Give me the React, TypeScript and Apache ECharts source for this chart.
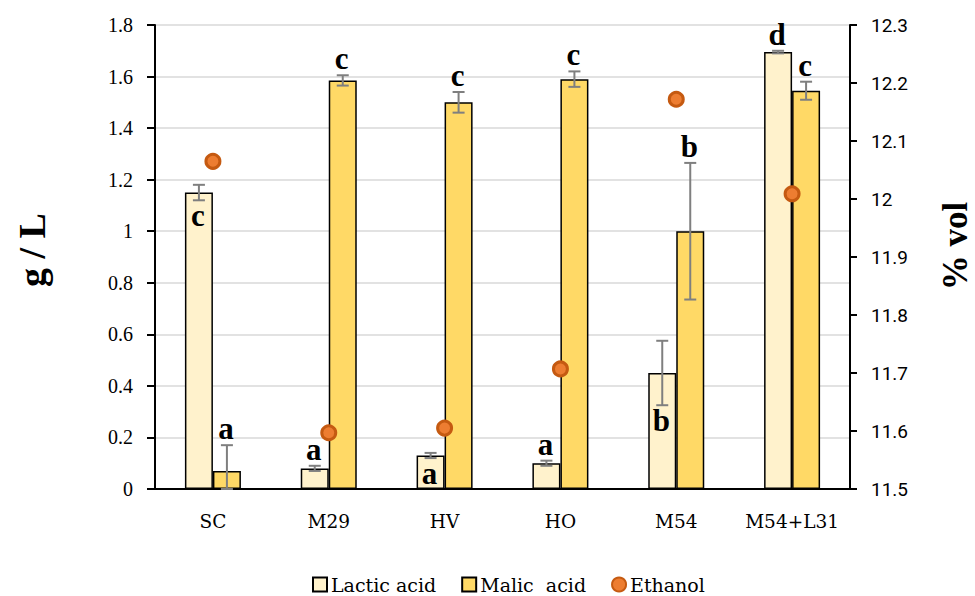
import React, { useEffect, useRef } from "react";
import * as echarts from "echarts";

const categories = ["SC", "M29", "HV", "HO", "M54", "M54+L31"];
const lactic = [1.15, 0.08, 0.13, 0.1, 0.45, 1.695];
const lacticErr = [0.03, 0.01, 0.01, 0.01, 0.125, 0.005];
const malic = [0.07, 1.585, 1.5, 1.59, 1.0, 1.545];
const malicErr = [0.1, 0.02, 0.04, 0.03, 0.265, 0.035];
const ethanol = [12.065, 11.597, 11.605, 11.707, 12.172, 12.009];
const lacticLetters = ["c", "a", "a", "a", "b", "d"];
const lacticLetterPos = ["in", "above", "in", "above", "in", "above"];
const malicLetters = ["a", "c", "c", "c", "b", "c"];
const malicLetterPos = ["above", "above", "above", "above", "above", "above"];

const SERIF = '"Liberation Serif", "Times New Roman", serif';
const WIDE_SERIF = '"DejaVu Serif", serif';
const BAR_W = 28;

function errorSeries(values: number[], errs: number[], letters: string[], pos: string[], offset: number) {
  return {
    type: "custom",
    xAxisIndex: 0,
    yAxisIndex: 0,
    z: 5,
    silent: true,
    data: values.map((v, i) => [i, v, errs[i]]),
    renderItem: (params: any, api: any) => {
      const i = api.value(0);
      const v = api.value(1);
      const e = api.value(2);
      const x = api.coord([i, v])[0] + offset;
      const yTop = api.coord([i, v + e])[1];
      const yBot = api.coord([i, Math.max(0, v - e)])[1];
      const st = { stroke: "#7f7f7f", lineWidth: 2 };
      const isIn = pos[params.dataIndex] === "in";
      return {
        type: "group",
        children: [
          { type: "line", shape: { x1: x, y1: yTop, x2: x, y2: yBot }, style: st },
          { type: "line", shape: { x1: x - 6, y1: yTop, x2: x + 6, y2: yTop }, style: st },
          { type: "line", shape: { x1: x - 6, y1: yBot, x2: x + 6, y2: yBot }, style: st },
          {
            type: "text",
            style: {
              text: letters[params.dataIndex],
              x: x - 1,
              y: isIn ? yBot : yTop - 1,
              fill: "#000",
              fontFamily: SERIF,
              fontSize: 31,
              fontWeight: "bold",
              align: "center",
              verticalAlign: isIn ? "top" : "bottom",
            },
          },
        ],
      };
    },
  };
}

export default function App() {
  const ref = useRef<HTMLDivElement>(null);
  useEffect(() => {
    if (!ref.current) return;
    const chart = echarts.init(ref.current, null, { renderer: "svg" });
    chart.setOption({
      animation: false,
      backgroundColor: "#fff",
      grid: { left: 155, right: 125, top: 25, bottom: 107 },
      legend: {
        top: 575,
        left: 312,
        padding: 0,
        itemWidth: 14,
        itemHeight: 14,
        itemGap: 25,
        textStyle: { fontFamily: WIDE_SERIF, fontSize: 19, color: "#000", padding: [0, 0, 0, -1] },
        data: [
          { name: "Lactic acid", icon: "rect" },
          { name: "Malic  acid", icon: "rect" },
          { name: "Ethanol", icon: "circle" },
        ],
      },
      xAxis: {
        type: "category",
        data: categories,
        axisLine: { lineStyle: { color: "#000", width: 2 } },
        axisTick: { show: false },
        axisLabel: { interval: 0, fontFamily: WIDE_SERIF, fontSize: 18.5, color: "#000", margin: 23 },
      },
      yAxis: [
        {
          type: "value",
          min: 0,
          max: 1.8,
          interval: 0.2,
          axisLine: { show: true, lineStyle: { color: "#000", width: 2 } },
          axisTick: { show: true, length: 8, lineStyle: { color: "#000", width: 2 } },
          axisLabel: { fontFamily: SERIF, fontSize: 20, color: "#000", margin: 22 },
          splitLine: { lineStyle: { color: "#d9d9d9", width: 1.5 } },
        },
        {
          type: "value",
          min: 11.5,
          max: 12.3,
          interval: 0.1,
          position: "right",
          axisLine: { show: true, lineStyle: { color: "#000", width: 2 } },
          axisTick: { show: true, length: 7, lineStyle: { color: "#000", width: 2 } },
          axisLabel: { fontFamily: "Roboto, sans-serif", fontSize: 19, color: "#000", margin: 21 },
          splitLine: { show: false },
        },
      ],
      graphic: [
        {
          type: "text",
          x: 32,
          y: 250,
          rotation: Math.PI / 2,
          style: {
            text: "g / L",
            fontFamily: SERIF,
            fontSize: 38,
            fontWeight: "bold",
            fill: "#000",
            align: "center",
            verticalAlign: "middle",
          },
        },
        {
          type: "text",
          x: 955,
          y: 246,
          rotation: Math.PI / 2,
          style: {
            text: "% vol",
            fontFamily: SERIF,
            fontSize: 35,
            fontWeight: "bold",
            fill: "#000",
            align: "center",
            verticalAlign: "middle",
          },
        },
      ],
      series: [
        {
          name: "Lactic acid",
          type: "bar",
          data: lactic,
          barWidth: BAR_W,
          barGap: "0%",
          itemStyle: { color: "#FFF2CC", borderColor: "#000", borderWidth: 1.5 },
        },
        {
          name: "Malic  acid",
          type: "bar",
          data: malic,
          barWidth: BAR_W,
          barGap: "0%",
          itemStyle: { color: "#FFD966", borderColor: "#000", borderWidth: 1.5 },
        },
        errorSeries(lactic, lacticErr, lacticLetters, lacticLetterPos, -BAR_W / 2),
        errorSeries(malic, malicErr, malicLetters, malicLetterPos, BAR_W / 2),
        {
          name: "Ethanol",
          type: "scatter",
          yAxisIndex: 1,
          data: ethanol,
          symbolSize: 14,
          z: 6,
          itemStyle: { color: "#ED7D31", borderColor: "#C55A11", borderWidth: 3, opacity: 1 },
        },
      ],
    });
    return () => chart.dispose();
  }, []);
  return <div ref={ref} style={{ position: "absolute", left: 0, top: 0, width: 975, height: 596 }} />;
}
